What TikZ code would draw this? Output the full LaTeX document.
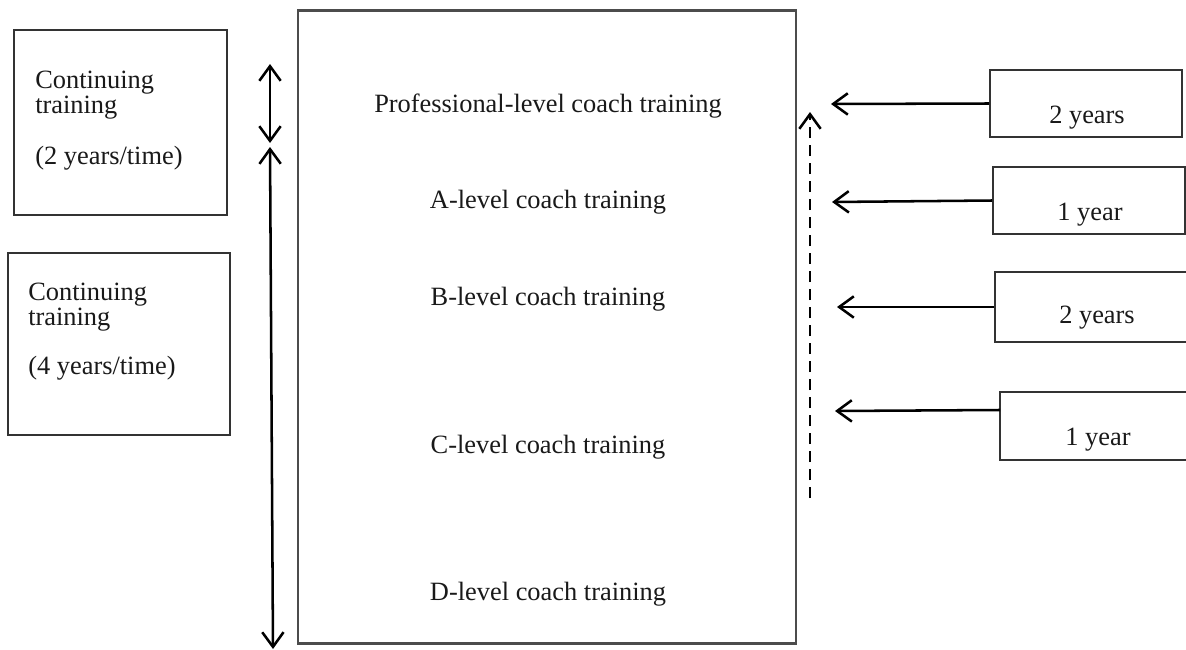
\documentclass[tikz,border=0pt]{standalone}
\usepackage{fontspec}
\setmainfont{Liberation Serif}
\usetikzlibrary{arrows.meta}
\begin{document}
\begin{tikzpicture}[x=0.75pt,y=-0.75pt,
  txt/.style={inner sep=0pt,font=\fontsize{19.8}{23}\selectfont,text=black!90},
  bigbox/.style={draw=black!70,line width=1.6pt,inner sep=0pt},
  smallbox/.style={draw=black!80,line width=1.2pt,inner sep=0pt},
  tip/.style={Straight Barb[length=11pt,width=16pt,line width=1.9pt]},
  arr/.style={line width=1.9pt,-{Straight Barb[length=11pt,width=16pt,line width=1.9pt]}},
  darr/.style={line width=1.9pt,{Straight Barb[length=11pt,width=16pt,line width=1.9pt]}-{Straight Barb[length=11pt,width=16pt,line width=1.9pt]}}
]
\useasboundingbox (0,0) rectangle (1186,650);
% main box
\node[bigbox,minimum width=497.5pt*0.75,minimum height=633pt*0.75] (main) at (547,327) {};
\node[txt,anchor=base] (prof) at (548,112) {Professional-level coach training};
\node[txt,anchor=base] (alev) at (548,208) {A-level coach training};
\node[txt,anchor=base] (blev) at (548,305) {B-level coach training};
\node[txt,anchor=base] (clev) at (548,453) {C-level coach training};
\node[txt,anchor=base] (dlev) at (548,600) {D-level coach training};
% left boxes
\node[smallbox,minimum width=213pt*0.75,minimum height=185pt*0.75] (lb1) at (120.5,122.5) {};
\node[txt,anchor=base west] (lb1a) at (35,88) {Continuing};
\node[txt,anchor=base west] (lb1b) at (35,113) {training};
\node[txt,anchor=base west] (lb1c) at (35,164) {(2 years/time)};
\node[smallbox,minimum width=222pt*0.75,minimum height=182pt*0.75] (lb2) at (119,344) {};
\node[txt,anchor=base west] (lb2a) at (28,300) {Continuing};
\node[txt,anchor=base west] (lb2b) at (28,325) {training};
\node[txt,anchor=base west] (lb2c) at (28,374) {(4 years/time)};
% right boxes
\node[smallbox,minimum width=192pt*0.75,minimum height=67pt*0.75] (rb1) at (1086,103.5) {};
\node[txt,anchor=base] (rb1t) at (1087,123) {2 years};
\node[smallbox,minimum width=192pt*0.75,minimum height=67pt*0.75] (rb2) at (1089,200.5) {};
\node[txt,anchor=base] (rb2t) at (1090,220) {1 year};
\node[smallbox,minimum width=196pt*0.75,minimum height=70pt*0.75] (rb3) at (1093,307) {};
\node[txt,anchor=base] (rb3t) at (1097,323) {2 years};
\node[smallbox,minimum width=192pt*0.75,minimum height=68pt*0.75] (rb4) at (1096,426) {};
\node[txt,anchor=base] (rb4t) at (1098,445) {1 year};
% arrow end points
\coordinate (a1e) at (831,104);
\coordinate (a2e) at (832,202);
\coordinate (a3e) at (837,307);
\coordinate (a4s) at (1000,410);
\coordinate (a4e) at (835,411);
\coordinate (d1t) at (270,64);
\coordinate (d1b) at (270,143);
\coordinate (d2t) at (270,147);
\coordinate (d2b) at (273,649);
\coordinate (dsb) at (810,498);
\coordinate (dst) at (810,112);
% connectors
\draw[arr] (rb1.west) -- (a1e);
\draw[arr] (rb2.west) -- (a2e);
\draw[arr] (rb3.west) -- (a3e);
\draw[arr] (a4s) -- (a4e);
\draw[darr] (d1t) -- (d1b);
\draw[darr] (d2t) -- (d2b);
\draw[arr,dash pattern=on 8pt off 5.5pt] (dsb) -- (dst);
\end{tikzpicture}
\end{document}
